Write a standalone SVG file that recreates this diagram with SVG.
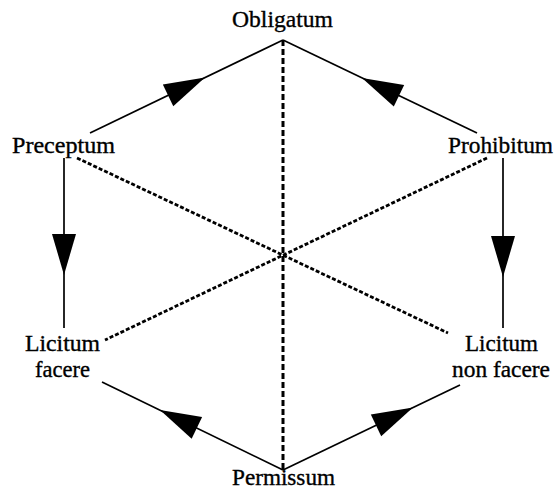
<svg xmlns="http://www.w3.org/2000/svg" xmlns:xlink="http://www.w3.org/1999/xlink" width="554" height="491" viewBox="0 0 554 491">
<style>
text{font-family:"Liberation Serif","Times New Roman",serif;font-size:23px;fill:#000;stroke:#000;stroke-width:0.35}
.solid{stroke:#000;stroke-width:1.7;fill:none}
.vdash{stroke:#000;stroke-width:3;stroke-dasharray:6 3;fill:none}
.ddash{stroke:#000;stroke-width:2.8;stroke-dasharray:4 2;fill:none}
.ah{fill:#000}
</style>
<defs>
<path id="ah" d="M0,0 L-41,-12 L-41,12 Z"/>
</defs>
<rect width="554" height="491" fill="#fff"/>
<g id="connectors">
<line class="vdash" x1="283" y1="40" x2="283" y2="470"/>
<line class="ddash" x1="77" y1="158" x2="448" y2="333"/>
<line class="ddash" x1="487" y1="158" x2="105" y2="340"/>
<line class="solid" x1="90" y1="133" x2="283" y2="40"/>
<line class="solid" x1="477" y1="133" x2="283" y2="40"/>
<line class="solid" x1="64" y1="158" x2="64" y2="328"/>
<line class="solid" x1="503" y1="158" x2="503" y2="328"/>
<line class="solid" x1="283" y1="470" x2="102" y2="382"/>
<line class="solid" x1="283" y1="470" x2="460" y2="385"/>
<use class="ah" xlink:href="#ah" transform="translate(205,77.6) rotate(-25.7)"/>
<use class="ah" xlink:href="#ah" transform="translate(362,78) rotate(205.6)"/>
<use class="ah" xlink:href="#ah" transform="translate(64,275) rotate(90)"/>
<use class="ah" xlink:href="#ah" transform="translate(503,277) rotate(90)"/>
<use class="ah" xlink:href="#ah" transform="translate(160,410) rotate(205.9)"/>
<use class="ah" xlink:href="#ah" transform="translate(413,407.6) rotate(-25.6)"/>
</g>
<g id="obligatum"><text x="232" y="27" textLength="101" lengthAdjust="spacingAndGlyphs">Obligatum</text></g>
<g id="preceptum"><text x="12" y="153" textLength="103" lengthAdjust="spacingAndGlyphs">Preceptum</text></g>
<g id="prohibitum"><text x="448" y="153" textLength="105" lengthAdjust="spacingAndGlyphs">Prohibitum</text></g>
<g id="licitum-facere"><text x="25" y="351" textLength="75" lengthAdjust="spacingAndGlyphs">Licitum</text><text x="35" y="377" textLength="55" lengthAdjust="spacingAndGlyphs">facere</text></g>
<g id="licitum-non-facere"><text x="465" y="351" textLength="73" lengthAdjust="spacingAndGlyphs">Licitum</text><text x="452" y="377" textLength="98" lengthAdjust="spacingAndGlyphs">non facere</text></g>
<g id="permissum"><text x="232" y="485" textLength="103" lengthAdjust="spacingAndGlyphs">Permissum</text></g>
</svg>
